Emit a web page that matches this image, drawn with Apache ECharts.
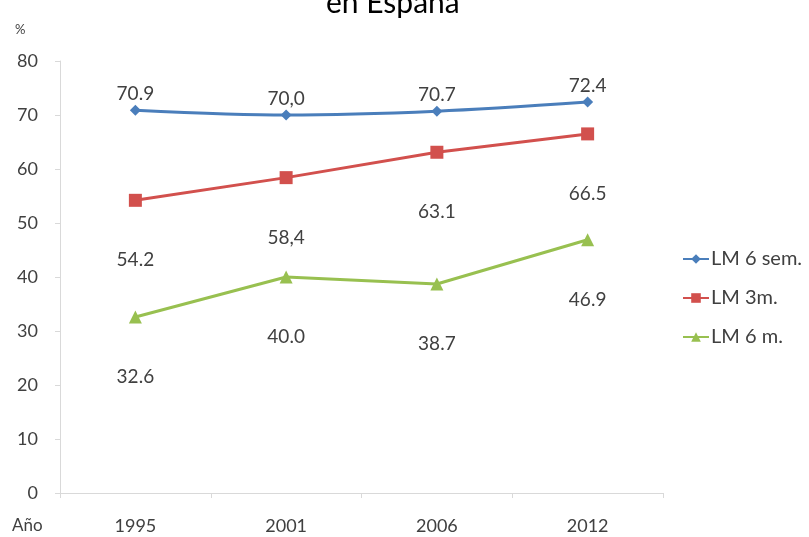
<!DOCTYPE html>
<html>
<head>
<meta charset="utf-8">
<script src="https://cdn.jsdelivr.net/npm/echarts@6/dist/echarts.min.js"></script>
<style>
  html, body { margin: 0; padding: 0; background: #fff; }
  #chart { width: 809px; height: 537px; }
</style>
</head>
<body>
<div id="chart"></div>
<script>
// Years and series values (percent)
const years = ['1995', '2001', '2006', '2012'];
const lm6sem = [70.9, 70.0, 70.7, 72.4];
const lm3m = [54.2, 58.4, 63.1, 66.5];
const lm6m = [32.6, 40.0, 38.7, 46.9];
// Printed value labels, as written on the chart
const lm6semLabels = ['70.9', '70,0', '70.7', '72.4'];
const lm3mLabels = ['54.2', '58,4', '63.1', '66.5'];
const lm6mLabels = ['32.6', '40.0', '38.7', '46.9'];
const yTicks = { min: 0, max: 80, interval: 10 };

const FONT = 'Lato, "Noto Sans", sans-serif';
const TXT = '#404040';

function labelled(values, labels) {
  return values.map((v, i) => ({ value: v, label: { formatter: labels[i] } }));
}

const chart = echarts.init(document.getElementById('chart'), null, { renderer: 'canvas' });
chart.setOption({
  animation: false,
  backgroundColor: '#ffffff',
  textStyle: { fontFamily: FONT },
  grid: { left: 60, right: 146, top: 61, bottom: 44 },
  graphic: [
    { type: 'text', left: 326, top: -12,
      style: { text: 'en España', font: '30px ' + FONT, fill: '#000' } },
    { type: 'text', left: 15, top: 23,
      style: { text: '%', font: '13px ' + FONT, fill: TXT } },
    { type: 'text', left: 12, top: 517,
      style: { text: 'Año', font: '17px ' + FONT, fill: TXT } }
  ],
  legend: {
    orient: 'vertical',
    left: 677,
    top: 244,
    itemGap: 19,
    itemWidth: 26,
    itemHeight: 12,
    textStyle: { fontSize: 20, color: TXT, fontFamily: FONT, padding: [0, 0, 0, -3] },
    data: ['LM 6 sem.', 'LM 3m.', 'LM 6 m.']
  },
  xAxis: {
    type: 'category',
    data: years,
    boundaryGap: true,
    axisLine: { lineStyle: { color: '#d9d9d9', width: 1 } },
    axisTick: { show: true, length: 5, lineStyle: { color: '#d9d9d9' } },
    axisLabel: { fontSize: 18, color: TXT, margin: 24 },
    splitLine: { show: false }
  },
  yAxis: {
    type: 'value',
    min: yTicks.min, max: yTicks.max, interval: yTicks.interval,
    axisLine: { show: true, lineStyle: { color: '#d9d9d9', width: 1 } },
    axisTick: { show: true, length: 5, lineStyle: { color: '#d9d9d9' } },
    axisLabel: { fontSize: 18, color: TXT, margin: 22 },
    splitLine: { show: false }
  },
  series: [
    {
      name: 'LM 6 sem.', type: 'line', smooth: 0.3,
      data: labelled(lm6sem, lm6semLabels),
      symbol: 'diamond', symbolSize: 11,
      itemStyle: { color: '#4a7ebb' },
      lineStyle: { color: '#4a7ebb', width: 3 },
      label: { show: true, position: 'top', distance: 1, fontSize: 19, color: TXT }
    },
    {
      name: 'LM 3m.', type: 'line',
      data: labelled(lm3m, lm3mLabels),
      symbol: 'rect', symbolSize: 13,
      itemStyle: { color: '#d2504d' },
      lineStyle: { color: '#d2504d', width: 3 },
      label: { show: true, position: 'bottom', distance: 44, fontSize: 19, color: TXT }
    },
    {
      name: 'LM 6 m.', type: 'line',
      data: labelled(lm6m, lm6mLabels),
      symbol: 'triangle', symbolSize: 13,
      itemStyle: { color: '#98c050' },
      lineStyle: { color: '#98c050', width: 3 },
      label: { show: true, position: 'bottom', distance: 44, fontSize: 19, color: TXT }
    }
  ]
});
</script>
</body>
</html>
